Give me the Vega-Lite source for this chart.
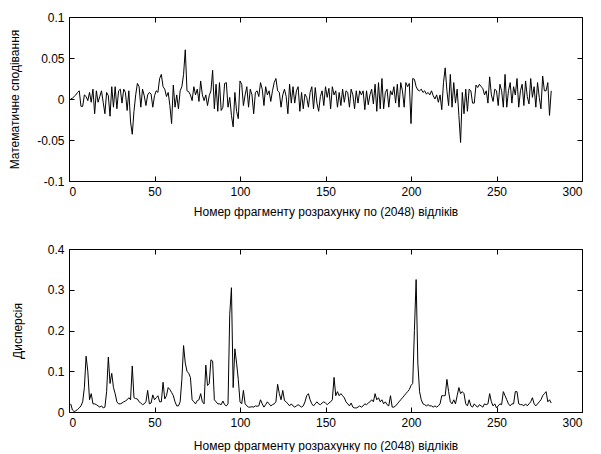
{
"$schema": "https://vega.github.io/schema/vega-lite/v6.json",
"autosize": {"type": "pad"},
"padding": {"left": 8, "top": 10, "right": 5, "bottom": 0},
"background": "white",
"bounds": "flush",
"spacing": 68,
"config": {
  "font": "Liberation Sans",
  "view": {"stroke": "black", "strokeWidth": 1},
  "axis": {"grid": false, "domain": false, "tickColor": "black", "tickSize": -5, "labelColor": "black", "labelFont": "Liberation Sans", "labelFontSize": 12, "titleFont": "Liberation Sans", "titleFontSize": 12, "titleFontWeight": "normal", "titleColor": "black", "labelPadding": 10}
},
"data": {"values": [
{"x":1,"m":0,"d":0.02},{"x":2,"m":0.001,"d":0.005},{"x":3,"m":0.003,"d":0.001},{"x":4,"m":0.005,"d":0.003},{"x":5,"m":0.008,"d":0.006},{"x":6,"m":0.01,"d":0.01},{"x":7,"m":-0.009,"d":0.015},{"x":8,"m":-0.009,"d":0.025},{"x":9,"m":0.005,"d":0.06},{"x":10,"m":0.003,"d":0.137},
{"x":11,"m":-0.002,"d":0.1},{"x":12,"m":0.008,"d":0.03},{"x":13,"m":-0.004,"d":0.045},{"x":14,"m":0.012,"d":0.02},{"x":15,"m":-0.018,"d":0.02},{"x":16,"m":0.01,"d":0.018},{"x":17,"m":-0.004,"d":0.015},{"x":18,"m":0.003,"d":0.012},{"x":19,"m":0.01,"d":0.015},{"x":20,"m":-0.004,"d":0.01},
{"x":21,"m":-0.018,"d":0.012},{"x":22,"m":0.008,"d":0.05},{"x":23,"m":0.004,"d":0.135},{"x":24,"m":-0.021,"d":0.07},{"x":25,"m":0.015,"d":0.095},{"x":26,"m":-0.01,"d":0.06},{"x":27,"m":0.015,"d":0.045},{"x":28,"m":-0.012,"d":0.025},{"x":29,"m":0.01,"d":0.02},{"x":30,"m":0.012,"d":0.02},
{"x":31,"m":-0.005,"d":0.022},{"x":32,"m":0.012,"d":0.025},{"x":33,"m":0.008,"d":0.027},{"x":34,"m":-0.014,"d":0.03},{"x":35,"m":0.01,"d":0.035},{"x":36,"m":-0.028,"d":0.03},{"x":37,"m":-0.043,"d":0.113},{"x":38,"m":-0.015,"d":0.035},{"x":39,"m":0.005,"d":0.033},{"x":40,"m":0.019,"d":0.032},
{"x":41,"m":0.015,"d":0.025},{"x":42,"m":-0.01,"d":0.022},{"x":43,"m":0.012,"d":0.018},{"x":44,"m":0.004,"d":0.02},{"x":45,"m":-0.008,"d":0.025},{"x":46,"m":0.005,"d":0.053},{"x":47,"m":0.008,"d":0.02},{"x":48,"m":0.006,"d":0.022},{"x":49,"m":-0.01,"d":0.042},{"x":50,"m":0.004,"d":0.03},
{"x":51,"m":0.01,"d":0.035},{"x":52,"m":0.008,"d":0.04},{"x":53,"m":0.025,"d":0.025},{"x":54,"m":0.03,"d":0.025},{"x":55,"m":0.015,"d":0.073},{"x":56,"m":0.012,"d":0.032},{"x":57,"m":0.003,"d":0.04},{"x":58,"m":0.008,"d":0.06},{"x":59,"m":-0.008,"d":0.055},{"x":60,"m":-0.03,"d":0.048},
{"x":61,"m":0.017,"d":0.04},{"x":62,"m":-0.01,"d":0.025},{"x":63,"m":0.005,"d":0.015},{"x":64,"m":-0.012,"d":0.015},{"x":65,"m":0.01,"d":0.025},{"x":66,"m":0.015,"d":0.08},{"x":67,"m":0.03,"d":0.163},{"x":68,"m":0.06,"d":0.12},{"x":69,"m":0.01,"d":0.1},{"x":70,"m":0.009,"d":0.095},
{"x":71,"m":0.005,"d":0.085},{"x":72,"m":-0.002,"d":0.03},{"x":73,"m":0.015,"d":0.025},{"x":74,"m":0.005,"d":0.02},{"x":75,"m":0.012,"d":0.028},{"x":76,"m":-0.003,"d":0.03},{"x":77,"m":0.022,"d":0.045},{"x":78,"m":0.005,"d":0.025},{"x":79,"m":-0.002,"d":0.02},{"x":80,"m":0.005,"d":0.115},
{"x":81,"m":-0.008,"d":0.065},{"x":82,"m":0.004,"d":0.07},{"x":83,"m":0.01,"d":0.128},{"x":84,"m":0.035,"d":0.125},{"x":85,"m":-0.012,"d":0.03},{"x":86,"m":0.018,"d":0.025},{"x":87,"m":-0.015,"d":0.02},{"x":88,"m":0.02,"d":0.02},{"x":89,"m":-0.014,"d":0.018},{"x":90,"m":-0.01,"d":0.027},
{"x":91,"m":0.019,"d":0.018},{"x":92,"m":0.02,"d":0.015},{"x":93,"m":-0.01,"d":0.02},{"x":94,"m":0.002,"d":0.24},{"x":95,"m":-0.02,"d":0.305},{"x":96,"m":-0.034,"d":0.06},{"x":97,"m":0.008,"d":0.155},{"x":98,"m":-0.015,"d":0.12},{"x":99,"m":-0.024,"d":0.08},{"x":100,"m":0.022,"d":0.025},
{"x":101,"m":0.018,"d":0.02},{"x":102,"m":-0.008,"d":0.053},{"x":103,"m":0.005,"d":0.02},{"x":104,"m":0.015,"d":0.015},{"x":105,"m":-0.01,"d":0.012},{"x":106,"m":0.012,"d":0.012},{"x":107,"m":0.005,"d":0.013},{"x":108,"m":-0.018,"d":0.012},{"x":109,"m":0.008,"d":0.015},{"x":110,"m":0.01,"d":0.014},
{"x":111,"m":0.003,"d":0.015},{"x":112,"m":0.02,"d":0.03},{"x":113,"m":0.012,"d":0.02},{"x":114,"m":-0.008,"d":0.012},{"x":115,"m":0.015,"d":0.018},{"x":116,"m":0.005,"d":0.025},{"x":117,"m":0.01,"d":0.02},{"x":118,"m":-0.003,"d":0.015},{"x":119,"m":0.01,"d":0.018},{"x":120,"m":0.02,"d":0.02},
{"x":121,"m":0.025,"d":0.025},{"x":122,"m":0.01,"d":0.068},{"x":123,"m":0.008,"d":0.045},{"x":124,"m":-0.01,"d":0.03},{"x":125,"m":0.005,"d":0.053},{"x":126,"m":0.012,"d":0.028},{"x":127,"m":0.003,"d":0.025},{"x":128,"m":-0.018,"d":0.02},{"x":129,"m":0.018,"d":0.015},{"x":130,"m":-0.005,"d":0.02},
{"x":131,"m":0.015,"d":0.015},{"x":132,"m":-0.005,"d":0.012},{"x":133,"m":0.01,"d":0.015},{"x":134,"m":0.015,"d":0.018},{"x":135,"m":-0.015,"d":0.015},{"x":136,"m":0.008,"d":0.012},{"x":137,"m":-0.012,"d":0.015},{"x":138,"m":0.006,"d":0.025},{"x":139,"m":0.002,"d":0.04},{"x":140,"m":-0.01,"d":0.045},
{"x":141,"m":0.008,"d":0.03},{"x":142,"m":0.015,"d":0.02},{"x":143,"m":-0.012,"d":0.015},{"x":144,"m":0.014,"d":0.02},{"x":145,"m":-0.005,"d":0.025},{"x":146,"m":-0.015,"d":0.02},{"x":147,"m":0.003,"d":0.018},{"x":148,"m":0.01,"d":0.022},{"x":149,"m":-0.008,"d":0.025},{"x":150,"m":0.015,"d":0.022},
{"x":151,"m":0.002,"d":0.018},{"x":152,"m":0.013,"d":0.022},{"x":153,"m":-0.012,"d":0.025},{"x":154,"m":0.015,"d":0.03},{"x":155,"m":0.005,"d":0.085},{"x":156,"m":0.01,"d":0.04},{"x":157,"m":-0.01,"d":0.05},{"x":158,"m":0.008,"d":0.04},{"x":159,"m":-0.008,"d":0.045},{"x":160,"m":0.012,"d":0.04},
{"x":161,"m":-0.004,"d":0.035},{"x":162,"m":0.01,"d":0.025},{"x":163,"m":0.008,"d":0.02},{"x":164,"m":-0.01,"d":0.015},{"x":165,"m":0.012,"d":0.022},{"x":166,"m":0.005,"d":0.012},{"x":167,"m":-0.012,"d":0.01},{"x":168,"m":0.01,"d":0.01},{"x":169,"m":-0.005,"d":0.012},{"x":170,"m":0.01,"d":0.015},
{"x":171,"m":0.005,"d":0.012},{"x":172,"m":0.01,"d":0.015},{"x":173,"m":-0.013,"d":0.02},{"x":174,"m":0.01,"d":0.018},{"x":175,"m":-0.007,"d":0.022},{"x":176,"m":0.005,"d":0.025},{"x":177,"m":0.012,"d":0.03},{"x":178,"m":-0.006,"d":0.025},{"x":179,"m":0.018,"d":0.045},{"x":180,"m":-0.015,"d":0.03},
{"x":181,"m":0.02,"d":0.035},{"x":182,"m":-0.012,"d":0.025},{"x":183,"m":0.025,"d":0.03},{"x":184,"m":-0.012,"d":0.02},{"x":185,"m":0.008,"d":0.025},{"x":186,"m":0.012,"d":0.018},{"x":187,"m":-0.01,"d":0.015},{"x":188,"m":0.01,"d":0.04},{"x":189,"m":0.005,"d":0.012},{"x":190,"m":0.015,"d":0.012},
{"x":191,"m":-0.005,"d":0.015},{"x":192,"m":0.018,"d":0.02},{"x":193,"m":-0.01,"d":0.025},{"x":194,"m":0.02,"d":0.03},{"x":195,"m":0.01,"d":0.035},{"x":196,"m":-0.01,"d":0.04},{"x":197,"m":0.02,"d":0.045},{"x":198,"m":0.015,"d":0.05},{"x":199,"m":0.019,"d":0.055},{"x":200,"m":-0.03,"d":0.065},
{"x":201,"m":0.025,"d":0.07},{"x":202,"m":0.024,"d":0.2},{"x":203,"m":0.015,"d":0.325},{"x":204,"m":0.011,"d":0.12},{"x":205,"m":0.01,"d":0.05},{"x":206,"m":0.012,"d":0.03},{"x":207,"m":0.008,"d":0.02},{"x":208,"m":0.01,"d":0.018},{"x":209,"m":0.006,"d":0.015},{"x":210,"m":0.008,"d":0.018},
{"x":211,"m":0.005,"d":0.015},{"x":212,"m":0.01,"d":0.015},{"x":213,"m":0.004,"d":0.012},{"x":214,"m":0,"d":0.015},{"x":215,"m":0.005,"d":0.012},{"x":216,"m":-0.004,"d":0.015},{"x":217,"m":0.005,"d":0.02},{"x":218,"m":-0.013,"d":0.04},{"x":219,"m":0.02,"d":0.04},{"x":220,"m":0.038,"d":0.04},
{"x":221,"m":0.01,"d":0.08},{"x":222,"m":-0.008,"d":0.05},{"x":223,"m":0.03,"d":0.025},{"x":224,"m":-0.01,"d":0.02},{"x":225,"m":0.02,"d":0.03},{"x":226,"m":-0.005,"d":0.02},{"x":227,"m":0.012,"d":0.04},{"x":228,"m":-0.02,"d":0.06},{"x":229,"m":-0.053,"d":0.045},{"x":230,"m":0.008,"d":0.05},
{"x":231,"m":-0.018,"d":0.045},{"x":232,"m":0.012,"d":0.02},{"x":233,"m":-0.015,"d":0.015},{"x":234,"m":0.012,"d":0.03},{"x":235,"m":0.01,"d":0.015},{"x":236,"m":-0.005,"d":0.012},{"x":237,"m":-0.005,"d":0.02},{"x":238,"m":0.017,"d":0.015},{"x":239,"m":0.014,"d":0.012},{"x":240,"m":0.018,"d":0.018},
{"x":241,"m":0.015,"d":0.015},{"x":242,"m":0.013,"d":0.012},{"x":243,"m":0.005,"d":0.02},{"x":244,"m":0.01,"d":0.018},{"x":245,"m":-0.005,"d":0.02},{"x":246,"m":0.027,"d":0.045},{"x":247,"m":0.005,"d":0.025},{"x":248,"m":-0.003,"d":0.015},{"x":249,"m":0.012,"d":0.02},{"x":250,"m":0.01,"d":0.01},
{"x":251,"m":-0.008,"d":0.015},{"x":252,"m":0.018,"d":0.02},{"x":253,"m":0.01,"d":0.018},{"x":254,"m":-0.01,"d":0.05},{"x":255,"m":0.03,"d":0.04},{"x":256,"m":-0.01,"d":0.03},{"x":257,"m":0.01,"d":0.02},{"x":258,"m":0.02,"d":0.015},{"x":259,"m":-0.005,"d":0.02},{"x":260,"m":0.015,"d":0.02},
{"x":261,"m":0.005,"d":0.05},{"x":262,"m":0.025,"d":0.05},{"x":263,"m":-0.01,"d":0.02},{"x":264,"m":0.01,"d":0.018},{"x":265,"m":0.018,"d":0.018},{"x":266,"m":-0.008,"d":0.015},{"x":267,"m":0.022,"d":0.02},{"x":268,"m":0.003,"d":0.015},{"x":269,"m":-0.006,"d":0.02},{"x":270,"m":0.025,"d":0.025},
{"x":271,"m":0.002,"d":0.035},{"x":272,"m":0.015,"d":0.02},{"x":273,"m":-0.01,"d":0.015},{"x":274,"m":0.02,"d":0.02},{"x":275,"m":0.002,"d":0.025},{"x":276,"m":-0.012,"d":0.03},{"x":277,"m":0.028,"d":0.04},{"x":278,"m":0.01,"d":0.045},{"x":279,"m":0.01,"d":0.05},{"x":280,"m":0.02,"d":0.025},
{"x":281,"m":-0.02,"d":0.03},{"x":282,"m":0.01,"d":0.022}
]},
"vconcat": [
 {
  "width": 513, "height": 164,
  "layer": [
   {"mark": {"type": "line", "color": "black", "strokeWidth": 1},
    "encoding": {
     "x": {"field": "x", "type": "quantitative", "scale": {"domain": [0, 300], "nice": false},
           "axis": {"orient": "bottom", "values": [0,50,100,150,200,250,300], "title": "Номер фрагменту розрахунку по (2048) відліків", "titlePadding": 9}},
     "y": {"field": "m", "type": "quantitative", "scale": {"domain": [-0.1, 0.1], "nice": false},
           "axis": {"orient": "left", "values": [-0.1,-0.05,0,0.05,0.1], "labelExpr": "'' + datum.value", "title": "Математичне сподівання", "titlePadding": 15}}
    }},
   {"mark": {"type": "line", "strokeOpacity": 0},
    "encoding": {
     "x": {"field": "x", "type": "quantitative", "scale": {"domain": [0, 300], "nice": false},
           "axis": {"orient": "top", "values": [0,50,100,150,200,250,300], "labels": false, "title": null}},
     "y": {"field": "m", "type": "quantitative", "scale": {"domain": [-0.1, 0.1], "nice": false},
           "axis": {"orient": "right", "values": [-0.1,-0.05,0,0.05,0.1], "labels": false, "title": null}}
    }}
  ],
  "resolve": {"axis": {"x": "independent", "y": "independent"}}
 },
 {
  "width": 513, "height": 163,
  "layer": [
   {"mark": {"type": "line", "color": "black", "strokeWidth": 1},
    "encoding": {
     "x": {"field": "x", "type": "quantitative", "scale": {"domain": [0, 300], "nice": false},
           "axis": {"orient": "bottom", "values": [0,50,100,150,200,250,300], "title": "Номер фрагменту розрахунку по (2048) відліків", "titlePadding": 12}},
     "y": {"field": "d", "type": "quantitative", "scale": {"domain": [0, 0.4], "nice": false},
           "axis": {"orient": "left", "values": [0,0.1,0.2,0.3,0.4], "labelExpr": "'' + datum.value", "title": "Дисперсія", "titlePadding": 23}}
    }},
   {"mark": {"type": "line", "strokeOpacity": 0},
    "encoding": {
     "x": {"field": "x", "type": "quantitative", "scale": {"domain": [0, 300], "nice": false},
           "axis": {"orient": "top", "values": [0,50,100,150,200,250,300], "labels": false, "title": null}},
     "y": {"field": "d", "type": "quantitative", "scale": {"domain": [0, 0.4], "nice": false},
           "axis": {"orient": "right", "values": [0,0.1,0.2,0.3,0.4], "labels": false, "title": null}}
    }}
  ],
  "resolve": {"axis": {"x": "independent", "y": "independent"}}
 }
]
}
